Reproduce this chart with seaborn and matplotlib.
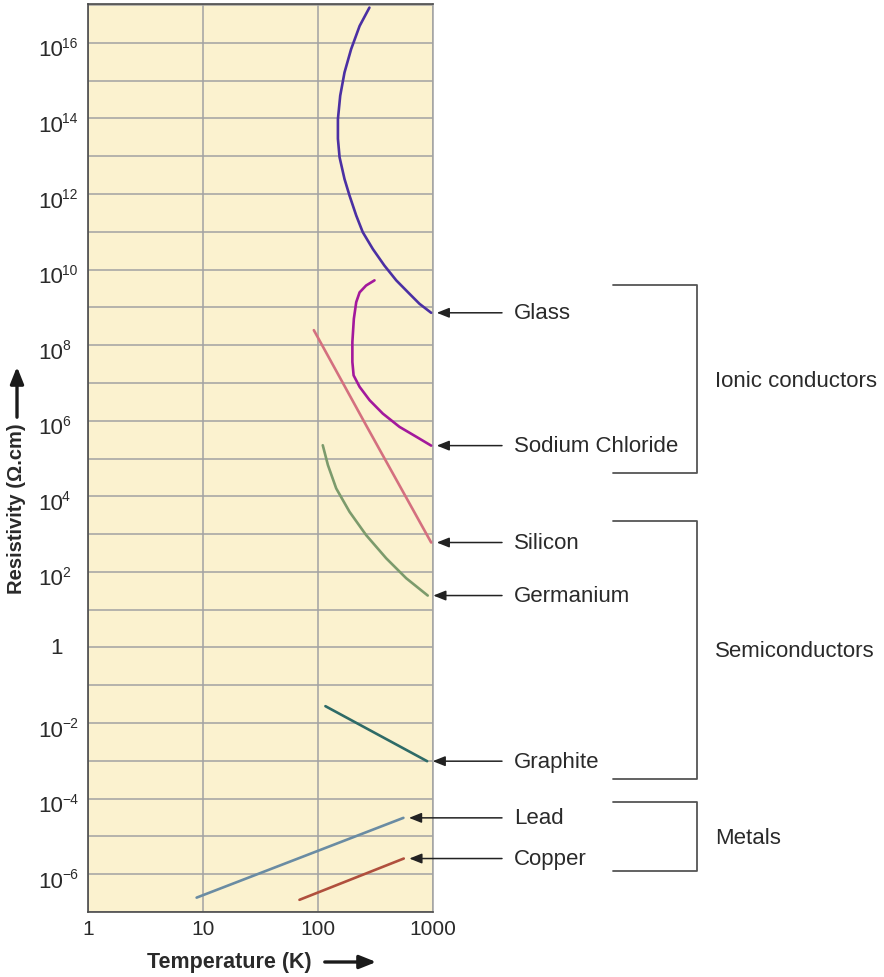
import numpy as np
import pandas as pd
import matplotlib
matplotlib.use('Agg')
import matplotlib.pyplot as plt
from matplotlib.lines import Line2D
from matplotlib.patches import FancyArrowPatch
from matplotlib.ticker import FixedLocator, FuncFormatter, NullLocator, NullFormatter
import seaborn as sns

# values (temperature in K, resistivity in ohm.cm)
glass_T = [280, 230, 194, 170, 156, 149, 149, 154, 170, 188, 215, 245, 300,
           378, 479, 624, 762, 964]
glass_rho = [8.6e16, 2.8e16, 6.8e15, 1.65e15, 4.0e14, 9.6e13, 2.9e13, 9.4e12,
             2.5e12, 9.1e11, 2.7e11, 9.8e10, 3.5e10, 1.28e10, 5.2e9, 2.3e9,
             1.25e9, 7.2e8]
nacl_T = [310, 262, 230, 215, 205, 199, 199, 204, 230, 281, 366, 511, 713, 964]
nacl_rho = [5.2e9, 3.8e9, 2.5e9, 1.38e9, 5.0e8, 1.21e8, 3.6e7, 1.59e7, 7.9e6,
            3.5e6, 1.55e6, 6.9e5, 3.8e5, 2.2e5]
silicon_T = [92, 262, 964]
silicon_rho = [2.5e8, 7.6e5, 600]
germanium_T = [110, 122, 144, 188, 262, 392, 585, 900]
germanium_rho = [2.25e5, 6.7e4, 1.62e4, 3.9e3, 944, 229, 68, 23.7]
graphite_T = [116, 889]
graphite_rho = [2.8e-2, 9.8e-4]
lead_T = [8.8, 553]
lead_rho = [2.4e-7, 3.1e-5]
copper_T = [69, 557]
copper_rho = [2.1e-7, 2.6e-6]

materials = ['Glass', 'Sodium Chloride', 'Silicon', 'Germanium', 'Graphite', 'Lead', 'Copper']
series = {
    'Glass': (glass_T, glass_rho),
    'Sodium Chloride': (nacl_T, nacl_rho),
    'Silicon': (silicon_T, silicon_rho),
    'Germanium': (germanium_T, germanium_rho),
    'Graphite': (graphite_T, graphite_rho),
    'Lead': (lead_T, lead_rho),
    'Copper': (copper_T, copper_rho),
}
palette = {
    'Glass': '#4B30A3',
    'Sodium Chloride': '#A3199C',
    'Silicon': '#D4707F',
    'Germanium': '#7C9B6C',
    'Graphite': '#2E6B67',
    'Lead': '#6A8CA3',
    'Copper': '#B0503D',
}
x_ticks = [1, 10, 100, 1000]
y_label_exps = [16, 14, 12, 10, 8, 6, 4, 2, 0, -2, -4, -6]
groups = ['Ionic conductors', 'Semiconductors', 'Metals']

rows = []
for m in materials:
    T, rho = series[m]
    for i, (t, r) in enumerate(zip(T, rho)):
        rows.append({'material': m, 'step': i, 'T': t, 'rho': r})
df = pd.DataFrame(rows)

sns.set_theme(style='white')
plt.rcParams['font.family'] = ['Liberation Sans', 'DejaVu Sans']
plt.rcParams['text.color'] = '#2a2a2a'

W, H = 884, 978
fig = plt.figure(figsize=(W / 100, H / 100), dpi=100)


def fpx(x, y):
    """pixel position (from top-left) -> figure fraction"""
    return x / W, 1 - y / H


ax = fig.add_axes([88 / W, (H - 913) / H, 345 / W, 908 / H])
ax.set_facecolor('#FBF2CF')
ax.set_xscale('log')
ax.set_yscale('log')
ax.set_xlim(1, 1000)
ax.set_ylim(1e-7, 1.07e17)

sns.lineplot(data=df, x='T', y='rho', hue='material', units='material',
             estimator=None, sort=False, palette=palette, linewidth=1.9,
             legend=False, ax=ax, zorder=3)

# grid: vertical at decades, horizontal at every decade
ax.xaxis.set_major_locator(FixedLocator(x_ticks))
ax.xaxis.set_minor_locator(NullLocator())
ax.yaxis.set_major_locator(FixedLocator([10.0 ** e for e in range(-7, 18)]))
ax.yaxis.set_minor_locator(NullLocator())
ax.yaxis.set_major_formatter(NullFormatter())
ax.grid(True, which='major', color='#A2A2A2', linewidth=1.1)
ax.set_axisbelow(True)

ax.xaxis.set_major_formatter(FuncFormatter(lambda v, p: '%d' % v))
ax.tick_params(axis='both', length=0, labelsize=15, labelcolor='#2a2a2a')
ax.tick_params(axis='x', pad=5)
ax.set_xlabel('')
ax.set_ylabel('')

# y tick labels as "10" with a small raised exponent
for e in y_label_exps:
    if e == 0:
        ax.annotate('1', xy=(0, 1.0), xycoords=('axes fraction', 'data'),
                    xytext=(-25, 0), textcoords='offset pixels',
                    ha='right', va='center', fontsize=16, color='#2a2a2a')
        continue
    ax.annotate('10', xy=(0, 10.0 ** e), xycoords=('axes fraction', 'data'),
                xytext=(-25, -7), textcoords='offset pixels',
                ha='right', va='center', fontsize=16, color='#2a2a2a')
    ax.annotate(str(e).replace('-', '\u2212'), xy=(0, 10.0 ** e),
                xycoords=('axes fraction', 'data'),
                xytext=(-26, 0), textcoords='offset pixels',
                ha='left', va='center', fontsize=10, color='#2a2a2a')

for side in ['left', 'bottom', 'top']:
    ax.spines[side].set_color('#4a4a4a')
    ax.spines[side].set_linewidth(1.2)
ax.spines['right'].set_color('#A2A2A2')
ax.spines['right'].set_linewidth(1.1)

# arrows from labels to curve ends
for m in materials:
    T, rho = series[m]
    ax.annotate('', xy=(T[-1], rho[-1]), xytext=(502, rho[-1]),
                xycoords='data', textcoords=('figure pixels', 'data'),
                arrowprops=dict(arrowstyle='-|>,head_length=0.75,head_width=0.3',
                                mutation_scale=10, color='#222222', lw=1.1,
                                shrinkA=0, shrinkB=4),
                annotation_clip=False)
    ax.annotate(m, xy=(514, rho[-1]), xycoords=('figure pixels', 'data'),
                ha='left', va='center', fontsize=16, annotation_clip=False)

# group brackets
brackets = [(285.7, 474.3, 381.7), (522.3, 780.0, 651.7), (803.3, 872.3, 839.0)]
for name, (top, bot, mid) in zip(groups, brackets):
    xs = [613, 697, 697, 613]
    ys = [top, top, bot, bot]
    pts = [fpx(x, y) for x, y in zip(xs, ys)]
    fig.add_artist(Line2D([p[0] for p in pts], [p[1] for p in pts],
                          transform=fig.transFigure, color='#555555', lw=1.3))
    fig.text(*fpx(715, mid), name, ha='left', va='center', fontsize=16)

# axis labels with arrows
fig.text(*fpx(229, 963), 'Temperature (K)', ha='center', va='center',
         fontsize=15.5, fontweight='bold')
fig.add_artist(FancyArrowPatch(fpx(322, 963), fpx(379, 963), transform=fig.transFigure,
                               arrowstyle='-|>,head_length=1.0,head_width=0.4',
                               mutation_scale=10, color='#1a1a1a', lw=2.4))
fig.text(*fpx(17, 509), 'Resistivity (\u03a9.cm)', ha='center', va='center',
         rotation=90, fontsize=14.5, fontweight='bold')
fig.add_artist(FancyArrowPatch(fpx(17, 421), fpx(17, 365), transform=fig.transFigure,
                               arrowstyle='-|>,head_length=1.0,head_width=0.4',
                               mutation_scale=10, color='#1a1a1a', lw=2.4))

fig.savefig('out.png', dpi=100, facecolor='white')
